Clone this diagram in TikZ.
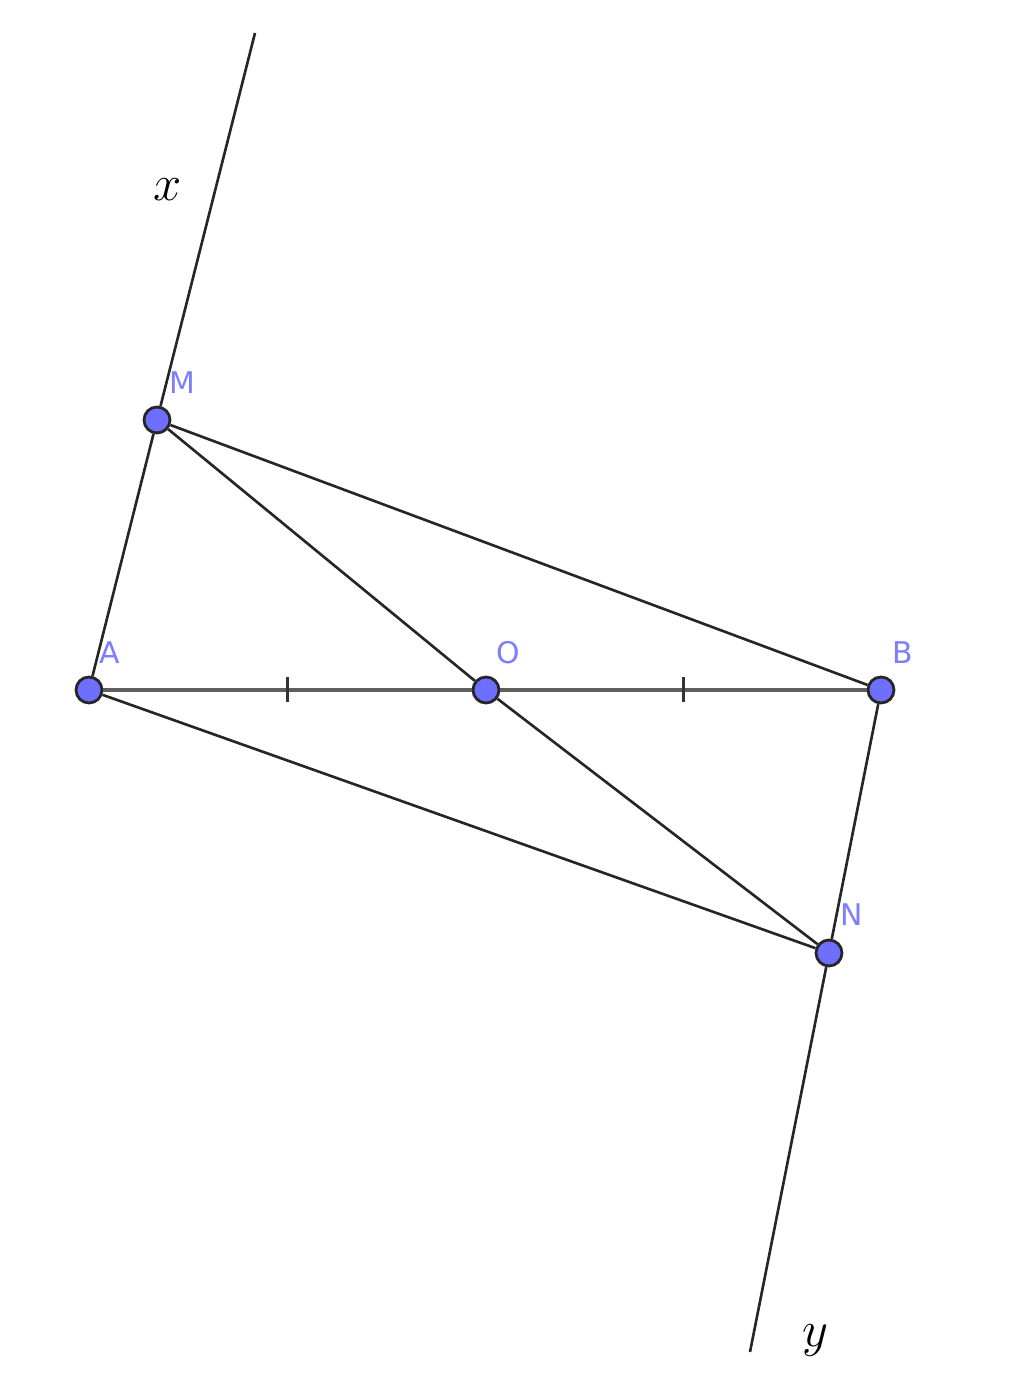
\documentclass[tikz,border=0pt]{standalone}
\usepackage{fontspec}
\newfontfamily\ptfont{DejaVu Sans}
\usepackage{tikz}
\usetikzlibrary{calc}
\definecolor{ptfill}{RGB}{110,110,255}
\definecolor{ptlabel}{RGB}{125,125,255}
\definecolor{segcol}{RGB}{95,95,95}
\begin{document}
\begin{tikzpicture}[scale=1]
\tikzstyle{point} = [draw=black!85, fill=ptfill, circle, inner sep=0, minimum size=0.26cm, line width=0.8]
\tikzstyle{ptname} = [text=ptlabel, font=\ptfont\fontsize{8.5}{10}\selectfont, inner sep=0]
\tikzstyle{edge} = [draw, black!85, line width=0.75]
\tikzstyle{base} = [draw, segcol, line width=1.1]
\tikzstyle{tick} = [draw, black!80, line width=0.8]
\useasboundingbox (0,0) rectangle (10.24,13.83);
\coordinate (xend) at (2.55, 13.50);
\coordinate (yend) at (7.50, 0.31);
\node[point] (A) at (0.89, 6.93) {};
\node[point] (O) at (4.86, 6.93) {};
\node[point] (B) at (8.81, 6.93) {};
\node[point] (M) at (1.57, 9.63) {};
\node[point] (N) at (8.29, 4.30) {};
\coordinate (tAO) at ($(A.center)!0.5!(O.center)$);
\coordinate (tOB) at ($(O.center)!0.5!(B.center)$);
\draw[base] (A) -- (O);
\draw[base] (O) -- (B);
\draw[tick] ($(tAO)+(0,0.125)$) -- ($(tAO)+(0,-0.125)$);
\draw[tick] ($(tOB)+(0,0.125)$) -- ($(tOB)+(0,-0.125)$);
\draw[edge] (xend) -- (M);
\draw[edge] (M) -- (A);
\draw[edge] (B) -- (N);
\draw[edge] (N) -- (yend);
\draw[edge] (M) -- (O);
\draw[edge] (O) -- (N);
\draw[edge] (M) -- (B);
\draw[edge] (A) -- (N);
\node[ptname] (lM) at (1.82, 10.00) {M};
\node[ptname] (lA) at (1.10, 7.30) {A};
\node[ptname] (lO) at (5.08, 7.30) {O};
\node[ptname] (lB) at (9.03, 7.30) {B};
\node[ptname] (lN) at (8.52, 4.68) {N};
\node[font=\fontsize{14}{16}\selectfont] (lx) at (1.68, 11.93) {$x$};
\node[font=\fontsize{14}{16}\selectfont] (ly) at (8.15, 0.42) {$y$};
\end{tikzpicture}
\end{document}
